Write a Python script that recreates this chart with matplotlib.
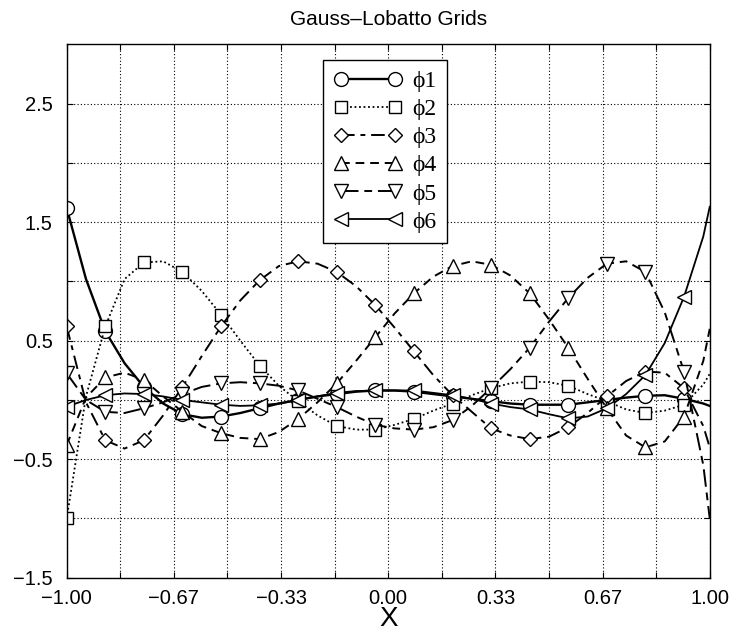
import matplotlib
matplotlib.use("Agg")
import matplotlib.pyplot as plt
from matplotlib.lines import Line2D
from matplotlib.ticker import FixedLocator

plt.rcParams['font.family'] = ['Liberation Sans', 'DejaVu Sans']

# x samples (markers drawn on every other sample)
x = [-1.00, -0.94, -0.88, -0.82, -0.76, -0.70, -0.64, -0.58, -0.52, -0.46,
     -0.40, -0.34, -0.28, -0.22, -0.16, -0.10, -0.04, 0.02, 0.08, 0.14,
     0.20, 0.26, 0.32, 0.38, 0.44, 0.50, 0.56, 0.62, 0.68, 0.74,
     0.80, 0.86, 0.92, 0.98, 1.00]

phi1 = [1.62, 1.02, 0.58, 0.31, 0.11, -0.03, -0.12, -0.15, -0.14, -0.11,
        -0.07, -0.03, 0.00, 0.03, 0.05, 0.07, 0.08, 0.08, 0.07, 0.05,
        0.03, 0.01, -0.01, -0.03, -0.04, -0.04, -0.04, -0.02, 0.00, 0.02,
        0.035, 0.04, 0.01, -0.03, -0.05]
phi2 = [-1.00, 0.03, 0.62, 1.02, 1.16, 1.17, 1.08, 0.92, 0.72, 0.50,
        0.29, 0.12, -0.01, -0.13, -0.22, -0.25, -0.25, -0.21, -0.16, -0.09,
        -0.03, 0.04, 0.10, 0.14, 0.155, 0.15, 0.12, 0.05, -0.01, -0.08,
        -0.11, -0.09, -0.04, 0.13, 0.22]
phi3 = [0.62, -0.02, -0.34, -0.41, -0.34, -0.13, 0.11, 0.37, 0.62, 0.84,
        1.01, 1.13, 1.17, 1.15, 1.08, 0.96, 0.80, 0.61, 0.41, 0.21,
        0.04, -0.10, -0.24, -0.30, -0.33, -0.31, -0.23, -0.11, 0.03, 0.16,
        0.24, 0.23, 0.10, -0.22, -0.40]
phi4 = [-0.38, 0.02, 0.19, 0.23, 0.17, 0.03, -0.10, -0.22, -0.28, -0.32,
        -0.33, -0.27, -0.16, -0.02, 0.14, 0.33, 0.53, 0.73, 0.90, 1.04,
        1.13, 1.17, 1.14, 1.05, 0.90, 0.68, 0.44, 0.18, -0.07, -0.30,
        -0.40, -0.35, -0.14, 0.33, 0.60]
phi5 = [0.225, 0.0, -0.10, -0.11, -0.07, -0.02, 0.05, 0.11, 0.14, 0.15,
        0.14, 0.12, 0.08, 0.01, -0.06, -0.14, -0.21, -0.24, -0.25, -0.23,
        -0.17, -0.05, 0.10, 0.26, 0.44, 0.66, 0.86, 1.03, 1.15, 1.17,
        1.08, 0.74, 0.24, -0.55, -1.00]
phi6 = [-0.056, 0.00, 0.04, 0.055, 0.05, 0.03, 0.00, -0.02, -0.04, -0.05,
        -0.045, -0.03, 0.00, 0.03, 0.06, 0.075, 0.08, 0.08, 0.08, 0.06,
        0.04, 0.01, -0.03, -0.06, -0.08, -0.12, -0.155, -0.14, -0.07, 0.05,
        0.21, 0.48, 0.87, 1.38, 1.63]

labels = ['ϕ1', 'ϕ2', 'ϕ3', 'ϕ4', 'ϕ5', 'ϕ6']
xticks = [-1.0, -2/3, -1/3, 0.0, 1/3, 2/3, 1.0]
xticklabels = ['−1.00', '−0.67', '−0.33', '0.00', '0.33', '0.67', '1.00']
yticks = [-1.5, -0.5, 0.5, 1.5, 2.5]
yticklabels = ['−1.5', '−0.5', '0.5', '1.5', '2.5']

series = [phi1, phi2, phi3, phi4, phi5, phi6]
markers = ['o', 's', 'D', '^', 'v', '<']
msizes = [10, 8.5, 7, 10, 10, 10]
styles = ['-', (0, (1, 1.5)), (0, (7, 3, 2.5, 3)), (0, (4.5, 3)),
          (0, (9, 3, 4, 3)), '-']
widths = [1.7, 1.3, 1.4, 1.4, 1.4, 1.3]
mark_idx = list(range(0, 33, 2))

fig = plt.figure(figsize=(7.37, 6.37), dpi=100)
ax = fig.add_axes([0.0905, 0.093, 0.8725, 0.8373])

handles = []
for y, m, ms, ls, lw, lab in zip(series, markers, msizes, styles, widths, labels):
    ax.plot(x, y, color='black', linestyle=ls, linewidth=lw, marker=m,
            markersize=ms, markerfacecolor='white', markeredgecolor='black',
            markeredgewidth=1.0, markevery=mark_idx)
    handles.append(Line2D([], [], color='black', linestyle=ls, linewidth=lw,
                          marker=m, markersize=ms, markerfacecolor='white',
                          markeredgecolor='black', markeredgewidth=1.0,
                          label=lab))

ax.set_xlim(-1, 1)
ax.set_ylim(-1.5, 3.0)
ax.set_xticks(xticks)
ax.set_xticklabels(xticklabels)
ax.set_yticks(yticks)
ax.set_yticklabels(yticklabels)
ax.xaxis.set_minor_locator(FixedLocator([-5/6, -1/2, -1/6, 1/6, 1/2, 5/6]))
ax.yaxis.set_minor_locator(FixedLocator([-1.0, 0.0, 1.0, 2.0]))
ax.tick_params(which='both', direction='in', top=True, right=True,
               labelsize=14.5, length=4, width=0.8)
ax.tick_params(axis='y', pad=10)
ax.tick_params(axis='x', pad=8)
ax.grid(True, which='both', color='black', linestyle=(0, (1, 2)), linewidth=0.8)
for s in ax.spines.values():
    s.set_linewidth(1.0)

ax.set_title('Gauss–Lobatto Grids', fontsize=15, pad=14)
ax.set_xlabel('X', fontsize=20, labelpad=-1)

leg = ax.legend(handles=handles, loc='upper left', bbox_to_anchor=(0.399, 0.971),
                prop={'family': ['Liberation Serif', 'DejaVu Serif'], 'size': 17},
                numpoints=2, handlelength=2.9, handletextpad=0.4,
                labelspacing=0.28, borderpad=0.45, borderaxespad=0,
                fancybox=False, framealpha=1, edgecolor='black')
leg.get_frame().set_linewidth(1.0)

fig.savefig('out.png', dpi=100)
